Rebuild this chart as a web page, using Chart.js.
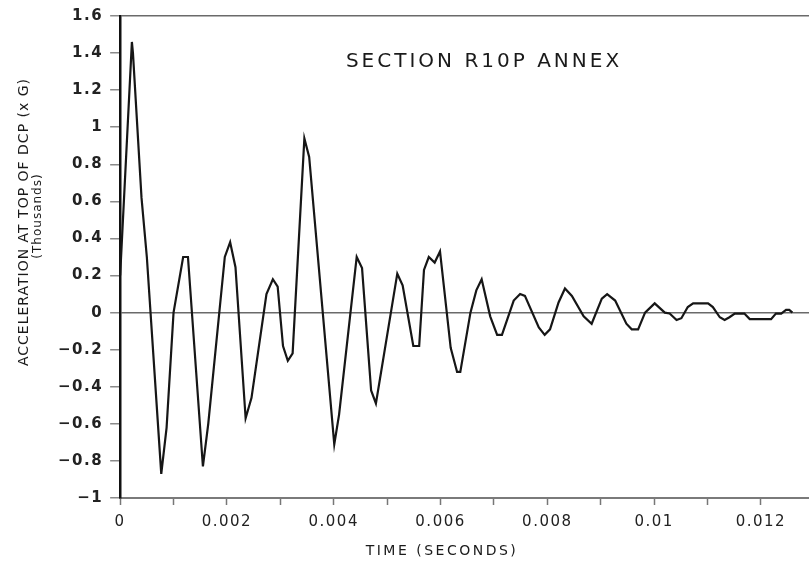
<!DOCTYPE html>
<html>
<head>
<meta charset="utf-8">
<script src="https://cdn.jsdelivr.net/npm/chart.js@4/dist/chart.umd.min.js"></script>
<style>
  html, body { margin: 0; padding: 0; background: #fff; }
  #wrap { width: 809px; height: 563px; }
</style>
</head>
<body>
<div id="wrap"><canvas id="accChart" width="809" height="563"></canvas></div>
<script>
// time (s) and acceleration (thousands of g) at the top of the DCP
const times = [
  0, 0.00022, 0.00024, 0.0004, 0.0005, 0.00077, 0.00087, 0.0010, 0.00118, 0.00127,
  0.00155, 0.00165, 0.00196, 0.00206, 0.00216, 0.00235, 0.00246, 0.00274, 0.00286, 0.00295,
  0.00305, 0.00314, 0.00323, 0.00345, 0.00354, 0.00401, 0.0041, 0.00443, 0.00453, 0.0047,
  0.00479, 0.00519, 0.00529, 0.00549, 0.0056, 0.00569, 0.00578, 0.00589, 0.00599, 0.00619,
  0.00631, 0.00637, 0.00656, 0.00667, 0.00677, 0.00693, 0.00706, 0.00715, 0.00737, 0.00749,
  0.00758, 0.00784, 0.00795, 0.00805, 0.00821, 0.00833, 0.00846, 0.00868, 0.00883, 0.00902,
  0.00912, 0.00927, 0.00948, 0.00958, 0.0097, 0.00983, 0.01001, 0.0102, 0.01029, 0.01042,
  0.01051, 0.01063, 0.01073, 0.01101, 0.0111, 0.01123, 0.01132, 0.01141, 0.01151, 0.01169,
  0.01179, 0.01219, 0.01228, 0.01238, 0.01247, 0.01253, 0.01259
];
const accel = [
  0.20, 1.46, 1.40, 0.62, 0.30, -0.87, -0.62, 0.0, 0.30, 0.30,
  -0.83, -0.60, 0.30, 0.38, 0.245, -0.57, -0.46, 0.10, 0.18, 0.14,
  -0.18, -0.26, -0.22, 0.94, 0.84, -0.71, -0.55, 0.30, 0.24, -0.42,
  -0.49, 0.21, 0.147, -0.18, -0.18, 0.23, 0.30, 0.27, 0.33, -0.19,
  -0.32, -0.32, 0.0, 0.12, 0.18, -0.02, -0.12, -0.12, 0.065, 0.10,
  0.09, -0.08, -0.12, -0.09, 0.055, 0.13, 0.09, -0.02, -0.06, 0.075,
  0.10, 0.065, -0.06, -0.09, -0.09, 0.0, 0.05, 0.0, -0.005, -0.04,
  -0.03, 0.03, 0.05, 0.05, 0.03, -0.025, -0.04, -0.025, -0.005, -0.005,
  -0.035, -0.035, -0.005, -0.005, 0.015, 0.015, 0.0
];

const xTickValues = [0, 0.001, 0.002, 0.003, 0.004, 0.005, 0.006, 0.007, 0.008, 0.009, 0.01, 0.011, 0.012];
const xTickLabels = ['0', '', '0.002', '', '0.004', '', '0.006', '', '0.008', '', '0.01', '', '0.012'];
const yTickValues = [-1, -0.8, -0.6, -0.4, -0.2, 0, 0.2, 0.4, 0.6, 0.8, 1, 1.2, 1.4, 1.6];
const yTickLabels = ['\u22121', '\u22120.8', '\u22120.6', '\u22120.4', '\u22120.2', '0', '0.2', '0.4', '0.6', '0.8', '1', '1.2', '1.4', '1.6'];

const chartTitle = 'SECTION R10P ANNEX';
const xTitle = 'TIME (SECONDS)';
const yTitle = ['ACCELERATION AT TOP OF DCP (x G)', '(Thousands)'];

const FONT = "'DejaVu Sans', 'Liberation Sans', sans-serif";

// plotter lettering is wide, so space out every label a little
const spacing = {
  id: 'spacing',
  beforeDraw(chart) { chart.ctx.letterSpacing = '1.5px'; }
};

// titles are drawn by hand so they can sit where the plotter put them
const textLayer = {
  id: 'textLayer',
  afterDraw(chart) {
    const c = chart.ctx;
    c.save();
    c.fillStyle = '#1a1a1a';
    c.textAlign = 'center';
    c.textBaseline = 'middle';

    c.font = '20px ' + FONT;
    c.letterSpacing = '3px';
    c.fillText(chartTitle, 484, 62);

    c.font = '14px ' + FONT;
    c.letterSpacing = '2.5px';
    c.fillText(xTitle, 442, 551);

    c.translate(24, 222);
    c.rotate(-Math.PI / 2);
    c.font = '14px ' + FONT;
    c.letterSpacing = '1px';
    c.fillText(yTitle[0], 0, 0);
    c.font = '12px ' + FONT;
    c.fillText(yTitle[1], 6, 14);
    c.restore();
  }
};

const ctx = document.getElementById('accChart');

new Chart(ctx, {
  type: 'line',
  data: {
    datasets: [{
      data: times.map((t, i) => ({ x: t, y: accel[i] })),
      borderColor: '#161616',
      borderWidth: 2.2,
      pointRadius: 0,
      tension: 0,
      fill: false
    }]
  },
  options: {
    responsive: false,
    animation: false,
    layout: {
      padding: { left: 57, right: 0, top: 13, bottom: 24 }
    },
    plugins: {
      legend: { display: false },
      tooltip: { enabled: false }
    },
    scales: {
      x: {
        type: 'linear',
        min: 0,
        max: 0.0129,
        afterBuildTicks: scale => { scale.ticks = xTickValues.map(v => ({ value: v })); },
        ticks: {
          autoSkip: false,
          maxRotation: 0,
          padding: 8,
          color: '#222',
          font: { family: FONT, size: 15 },
          callback: (v, i) => xTickLabels[i]
        },
        grid: {
          drawOnChartArea: false,
          tickLength: 7,
          tickColor: '#777',
          tickWidth: 1.5
        },
        border: { color: '#7a7a7a', width: 2 }
      },
      y: {
        min: -1,
        max: 1.6,
        afterBuildTicks: scale => { scale.ticks = yTickValues.map(v => ({ value: v })); },
        ticks: {
          autoSkip: false,
          padding: 7,
          color: '#222',
          font: { family: FONT, size: 15, weight: 'bold' },
          callback: (v, i) => yTickLabels[i]
        },
        grid: {
          drawOnChartArea: true,
          color: c => (c.tick && (c.tick.value === 0 || c.tick.value === 1.6)) ? '#6a6a6a' : 'rgba(0,0,0,0)',
          lineWidth: 1.5,
          tickLength: 10,
          tickColor: '#8a8a8a',
          tickWidth: 1.5
        },
        border: { color: '#111', width: 2.5 }
      }
    }
  },
  plugins: [spacing, textLayer]
});
</script>
</body>
</html>
